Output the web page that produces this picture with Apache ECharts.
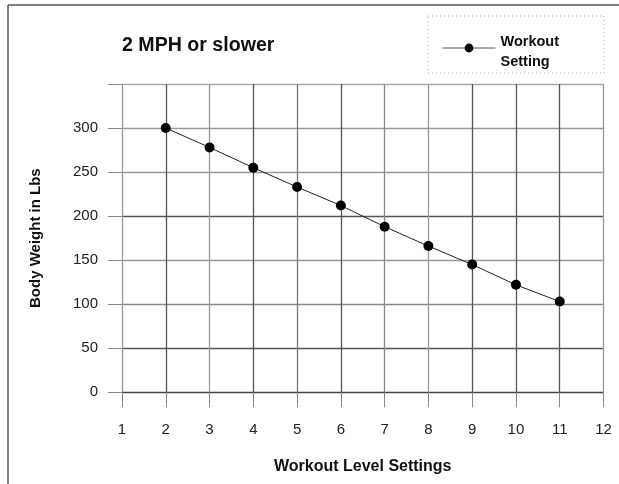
<!DOCTYPE html>
<html>
<head>
<meta charset="utf-8">
<script src="https://cdn.jsdelivr.net/npm/echarts@6/dist/echarts.min.js"></script>
<style>html,body{margin:0;padding:0;background:#fff}#c{width:619px;height:484px}</style>
</head>
<body>
<div id="c"></div>
<script>
const levels = [2, 3, 4, 5, 6, 7, 8, 9, 10, 11];
const weights = [300, 278, 255, 233, 212, 188, 166, 145, 122, 103];
const yTicks = [0, 50, 100, 150, 200, 250, 300];
const xTicks = [1, 2, 3, 4, 5, 6, 7, 8, 9, 10, 11, 12];
const titleText = '2 MPH or slower';
const seriesName = 'Workout Setting';
const legendLines = ['Workout', 'Setting'];
const xName = 'Workout Level Settings';
const yName = 'Body Weight in Lbs';

const chart = echarts.init(document.getElementById('c'), null, {renderer: 'canvas'});
const F = 'Liberation Sans, Arial, Helvetica, sans-serif';
chart.setOption({
  animation: false,
  backgroundColor: '#fff',
  title: {
    text: titleText, left: 122, top: 36, padding: 0,
    textStyle: {fontFamily: F, fontSize: 19.6, fontWeight: 'bold', color: '#111'}
  },
  legend: {
    data: [seriesName], left: 442, top: 27.5, padding: 0,
    itemWidth: 53, itemHeight: 11, itemGap: 5,
    lineStyle: {color: '#555', width: 1},
    itemStyle: {color: '#000'},
    formatter: () => '{s| }\n' + legendLines.map(l => '{t|' + l + '}').join('\n'),
    textStyle: {
      fontFamily: F, fontSize: 14, fontWeight: 'bold', color: '#111',
      rich: {
        s: {fontSize: 1, lineHeight: 7},
        t: {fontFamily: F, fontSize: 14.5, fontWeight: 'bold', color: '#111', lineHeight: 20}
      }
    }
  },
  grid: {left: 122, right: 15.5, top: 84, bottom: 91.7},
  xAxis: {
    type: 'value', min: 1, max: 12, interval: 1,
    name: xName, nameLocation: 'middle', nameGap: 66,
    nameTextStyle: {fontFamily: F, fontSize: 16, fontWeight: 'bold', color: '#111'},
    axisLine: {show: false},
    axisTick: {show: true, length: 15, lineStyle: {color: '#888'}},
    axisLabel: {margin: 30, fontFamily: F, fontSize: 15, color: '#222',
      formatter: v => xTicks.indexOf(v) >= 0 ? String(v) : ''},
    splitLine: {show: true, lineStyle: {width: 1.3, color: ['#999', '#555', '#999', '#555', '#777', '#555', '#888', '#999', '#555', '#555', '#555', '#999']}}
  },
  yAxis: {
    type: 'value', min: 0, max: 350, interval: 50,
    name: yName, nameLocation: 'middle', nameGap: 79, nameRotate: 90,
    nameTextStyle: {fontFamily: F, fontSize: 15, fontWeight: 'bold', color: '#111'},
    axisLine: {show: false},
    axisTick: {show: true, length: 14, lineStyle: {color: '#888'}},
    axisLabel: {margin: 24, fontFamily: F, fontSize: 15, color: '#222',
      formatter: v => yTicks.indexOf(v) >= 0 ? String(v) : ''},
    splitLine: {show: true, lineStyle: {width: 1.3, color: ['#444', '#555', '#888', '#999', '#555', '#999', '#999', '#aaa']}}
  },
  series: [{
    name: seriesName, type: 'line',
    data: levels.map((x, i) => [x, weights[i]]),
    symbol: 'circle', symbolSize: 10,
    lineStyle: {color: '#222', width: 1},
    itemStyle: {color: '#000'}
  }],
  graphic: [
    {type: 'line', shape: {x1: 8, y1: 5, x2: 619, y2: 5}, style: {stroke: '#555', lineWidth: 1.5}},
    {type: 'line', shape: {x1: 8, y1: 5, x2: 8, y2: 484}, style: {stroke: '#555', lineWidth: 1.5}},
    {type: 'rect', shape: {x: 428, y: 16, width: 176, height: 57},
      style: {fill: 'none', stroke: '#aaa', lineWidth: 1, lineDash: [1, 3]}}
  ]
});
</script>
</body>
</html>
